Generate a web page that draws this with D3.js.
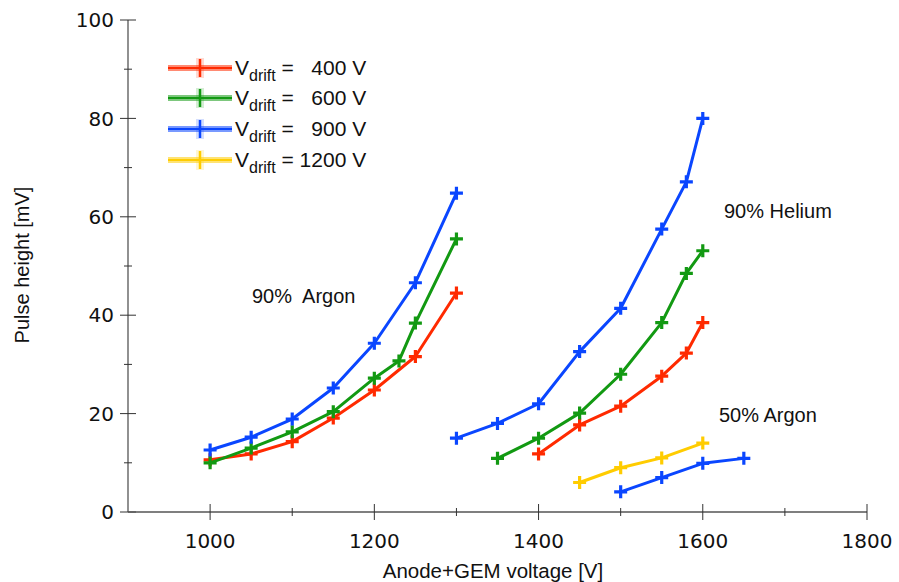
<!DOCTYPE html>
<html><head><meta charset="utf-8">
<script src="https://cdn.jsdelivr.net/npm/d3@7"></script>
<style>body{margin:0;background:#fff}svg{display:block}</style>
</head><body>
<svg id="c" width="899" height="582"></svg>
<script>
// ---- data ----
const xTicks = [1000, 1200, 1400, 1600, 1800];
const yTicks = [0, 20, 40, 60, 80, 100];
const legendLabels = ["400 V", "600 V", "900 V", "1200 V"];
const seriesColors = ["#ff2a00", "#129912", "#0a46ff", "#ffcc00"];

const ar90Red_x   = [1000,1050,1100,1150,1200,1250,1300];
const ar90Red_y   = [10.6,11.8,14.3,19.1,24.8,31.6,44.5];
const ar90Green_x = [1000,1050,1100,1150,1200,1230,1250,1300];
const ar90Green_y = [10.0,13.0,16.3,20.4,27.2,30.7,38.4,55.5];
const ar90Blue_x  = [1000,1050,1100,1150,1200,1250,1300];
const ar90Blue_y  = [12.6,15.2,18.9,25.2,34.3,46.6,64.8];
const he90Blue_x  = [1300,1350,1400,1450,1500,1550,1580,1600];
const he90Blue_y  = [15.0,18.0,22.0,32.6,41.4,57.5,67.1,80.0];
const he90Green_x = [1350,1400,1450,1500,1550,1580,1600];
const he90Green_y = [10.9,15.0,20.1,28.0,38.5,48.5,53.1];
const he90Red_x   = [1400,1450,1500,1550,1580,1600];
const he90Red_y   = [11.8,17.7,21.5,27.6,32.3,38.5];
const ar50Yellow_x= [1450,1500,1550,1600];
const ar50Yellow_y= [6.0,9.0,11.0,14.0];
const ar50Blue_x  = [1500,1550,1600,1650];
const ar50Blue_y  = [4.1,7.0,9.9,10.9];

const series = [
  {x: ar90Red_x, y: ar90Red_y, c: 0},
  {x: ar90Green_x, y: ar90Green_y, c: 1},
  {x: ar90Blue_x, y: ar90Blue_y, c: 2},
  {x: he90Red_x, y: he90Red_y, c: 0},
  {x: he90Green_x, y: he90Green_y, c: 1},
  {x: he90Blue_x, y: he90Blue_y, c: 2},
  {x: ar50Yellow_x, y: ar50Yellow_y, c: 3},
  {x: ar50Blue_x, y: ar50Blue_y, c: 2}
];

// ---- layout ----
const svg = d3.select("#c");
const x = d3.scaleLinear().domain([900, 1800]).range([128, 867]);
const y = d3.scaleLinear().domain([0, 100]).range([512, 20]);
const font = "'Liberation Sans', Arial, sans-serif";
const tickFont = "'DejaVu Sans', 'Liberation Sans', sans-serif";
const axisColor = "#555";

// y axis
const gy = svg.append("g");
gy.append("line").attr("x1", x(900)).attr("x2", x(900)).attr("y1", y(0)).attr("y2", y(100))
  .attr("stroke", axisColor).attr("stroke-width", 1.3);
d3.range(0, 101, 10).forEach(v => {
  const major = v % 20 === 0;
  gy.append("line").attr("x1", x(900) - (major ? 8 : 4)).attr("x2", x(900) + (major ? 8 : 4))
    .attr("y1", y(v)).attr("y2", y(v)).attr("stroke", "#333").attr("stroke-width", 1);
});
yTicks.forEach(v => {
  gy.append("text").attr("x", 114).attr("y", y(v)).attr("dy", "0.36em")
    .attr("text-anchor", "end").attr("font-family", tickFont).attr("font-size", 20).attr("fill", "#111").text(v);
});

// x axis
const gx = svg.append("g");
gx.append("line").attr("x1", x(900)).attr("x2", x(1800)).attr("y1", y(0)).attr("y2", y(0))
  .attr("stroke", axisColor).attr("stroke-width", 1.3);
d3.range(1000, 1801, 100).forEach(v => {
  const major = v % 200 === 0;
  gx.append("line").attr("x1", x(v)).attr("x2", x(v))
    .attr("y1", y(0) - (major ? 8 : 4)).attr("y2", y(0) + (major ? 8 : 4))
    .attr("stroke", "#333").attr("stroke-width", 1);
});
xTicks.forEach(v => {
  gx.append("text").attr("x", x(v)).attr("y", 548).attr("text-anchor", "middle")
    .attr("font-family", tickFont).attr("font-size", 20).attr("fill", "#111").text(v);
});

// axis titles
svg.append("text").attr("x", 493).attr("y", 578).attr("text-anchor", "middle")
  .attr("font-family", font).attr("font-size", 20.5).attr("fill", "#111").text("Anode+GEM voltage [V]");
svg.append("text").attr("transform", "translate(29,265) rotate(-90)").attr("text-anchor", "middle")
  .attr("font-family", font).attr("font-size", 20).attr("fill", "#111").text("Pulse height [mV]");

// series
const line = d3.line().x(d => x(d[0])).y(d => y(d[1]));
const arm = 6.5;
series.forEach(s => {
  const pts = s.x.map((v, i) => [v, s.y[i]]);
  const col = seriesColors[s.c];
  svg.append("path").datum(pts).attr("d", line).attr("fill", "none")
    .attr("stroke", col).attr("stroke-width", 3).attr("stroke-linejoin", "round");
  const g = svg.append("g");
  pts.forEach(p => {
    const cx = x(p[0]), cy = y(p[1]);
    g.append("path").attr("d", `M${cx - arm},${cy}H${cx + arm}M${cx},${cy - arm}V${cy + arm}`)
      .attr("stroke", col).attr("stroke-width", 3.2).attr("fill", "none");
  });
});

// annotations
const ann = [["90%  Argon", 252, 303], ["90% Helium", 724, 218], ["50% Argon", 719, 422]];
ann.forEach(a => svg.append("text").attr("x", a[1]).attr("y", a[2])
  .attr("font-family", font).attr("font-size", 20).attr("fill", "#111")
  .attr("xml:space", "preserve").text(a[0]));

// legend
const legY = [68, 98, 129, 160];
legendLabels.forEach((lab, i) => {
  const col = seriesColors[i];
  const ly = legY[i];
  const g = svg.append("g");
  g.append("line").attr("x1", 168).attr("x2", 232).attr("y1", ly).attr("y2", ly)
    .attr("stroke", col).attr("stroke-width", 6).attr("stroke-opacity", 0.55);
  g.append("line").attr("x1", 168).attr("x2", 232).attr("y1", ly).attr("y2", ly)
    .attr("stroke", col).attr("stroke-width", 2);
  g.append("rect").attr("x", 196).attr("y", ly - 10).attr("width", 8).attr("height", 20)
    .attr("fill", col).attr("fill-opacity", 0.18);
  g.append("line").attr("x1", 200).attr("x2", 200).attr("y1", ly - 9).attr("y2", ly + 9)
    .attr("stroke", col).attr("stroke-width", 2.5);
  const t = g.append("text").attr("x", 235).attr("y", ly + 7)
    .attr("font-family", font).attr("font-size", 21).attr("fill", "#111").attr("xml:space", "preserve");
  t.append("tspan").text("V");
  t.append("tspan").attr("font-size", 16).attr("dy", 6).text("drift");
  t.append("tspan").attr("dy", -6).text(i < 3 ? " =   " + lab : " = " + lab);
});
</script>
</body></html>
